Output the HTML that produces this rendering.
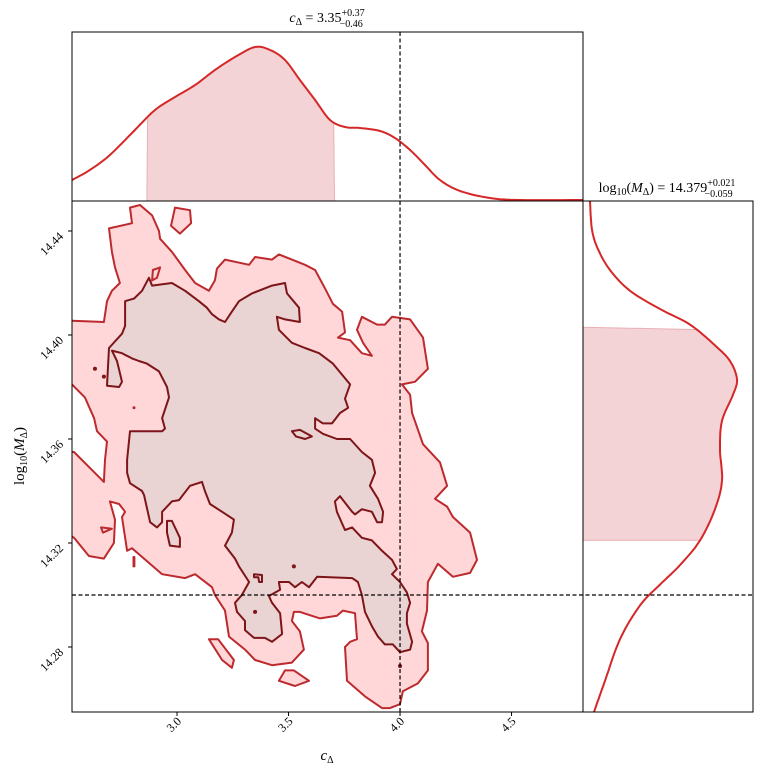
<!DOCTYPE html>
<html><head><meta charset="utf-8"><style>
body{margin:0;background:#fff;}
svg{display:block;font-family:"Liberation Serif",serif;}
</style></head><body>
<svg id="chart" width="765" height="773" xmlns="http://www.w3.org/2000/svg">
<defs>
<clipPath id="cm"><rect x="72" y="201" width="511" height="511"/></clipPath>
<clipPath id="ct"><rect x="72" y="32" width="511" height="169"/></clipPath>
<clipPath id="cr"><rect x="583" y="201" width="170" height="511"/></clipPath>
</defs>
<g id="main" clip-path="url(#cm)"></g>
<g id="top" clip-path="url(#ct)"></g>
<g id="right" clip-path="url(#cr)"></g>
<g id="frames" fill="none" stroke="#000" stroke-width="1"></g>
<g id="ticks"></g>
<text x="327" y="22" text-anchor="middle" font-size="14"><tspan font-style="italic">c</tspan><tspan font-size="10" dy="3">Δ</tspan><tspan dy="-3"> = 3.35</tspan><tspan font-size="10" dy="-6">+0.37</tspan><tspan font-size="10" dx="-25" dy="11">−0.46</tspan></text>
<text x="667" y="192" text-anchor="middle" font-size="14">log<tspan font-size="10" dy="3">10</tspan><tspan dy="-3">(</tspan><tspan font-style="italic">M</tspan><tspan font-size="10" dy="3">Δ</tspan><tspan dy="-3">) = 14.379</tspan><tspan font-size="10" dy="-6">+0.021</tspan><tspan font-size="10" dx="-31" dy="11">−0.059</tspan></text>
<text x="327" y="760" text-anchor="middle" font-size="15"><tspan font-style="italic">c</tspan><tspan font-size="10" dy="3">Δ</tspan></text>
<text transform="translate(24,456) rotate(-90)" text-anchor="middle" font-size="15">log<tspan font-size="10" dy="3">10</tspan><tspan dy="-3">(</tspan><tspan font-style="italic">M</tspan><tspan font-size="10" dy="3">Δ</tspan><tspan dy="-3">)</tspan></text>
</svg>
<script>
const xTicks=[3.0,3.5,4.0,4.5];
const xTickLabels=["3.0","3.5","4.0","4.5"];
const yTicks=[14.28,14.32,14.36,14.40,14.44];
const yTickLabels=["14.28","14.32","14.36","14.40","14.44"];
const truthC=4.0;
const truthM=14.30;
const outerC=[2.695,2.798,2.789,2.834,2.888,2.919,2.924,2.977,3.036,3.081,3.143,3.170,3.179,3.215,3.323,3.350,3.426,3.457,3.515,3.574,3.619,3.663,3.699,3.740,3.753,3.722,3.776,3.829,3.874,3.834,3.807,3.829,3.897,3.932,3.964,4.045,4.103,4.125,4.067,4.009,4.045,4.054,4.103,4.179,4.211,4.157,4.211,4.237,4.314,4.345,4.314,4.237,4.170,4.125,4.121,4.098,4.125,4.125,4.080,4.013,4.000,3.955,3.919,3.843,3.762,3.753,3.776,3.807,3.798,3.744,3.717,3.641,3.551,3.524,3.515,3.551,3.569,3.515,3.426,3.350,3.305,3.233,3.215,3.170,3.157,3.081,3.036,2.933,2.798,2.776,2.753,2.767,2.740,2.699,2.722,2.717,2.672,2.605,2.538,2.520,2.520,2.538,2.672,2.677,2.686,2.641,2.628,2.587,2.529,2.520,2.520,2.529,2.672,2.686,2.708,2.744,2.722,2.708];
const outerM=[14.441,14.443,14.449,14.450,14.446,14.440,14.437,14.432,14.425,14.420,14.417,14.421,14.4255,14.429,14.427,14.430,14.429,14.431,14.429,14.427,14.425,14.418,14.412,14.409,14.401,14.399,14.398,14.393,14.392,14.397,14.402,14.407,14.404,14.404,14.407,14.406,14.399,14.387,14.382,14.381,14.377,14.370,14.358,14.351,14.342,14.337,14.334,14.330,14.324,14.3135,14.3085,14.307,14.312,14.305,14.294,14.286,14.2815,14.271,14.266,14.263,14.258,14.2565,14.2565,14.261,14.267,14.280,14.282,14.283,14.293,14.294,14.292,14.291,14.2935,14.2935,14.290,14.286,14.279,14.274,14.273,14.275,14.279,14.284,14.294,14.300,14.303,14.308,14.3065,14.308,14.318,14.317,14.330,14.332,14.335,14.336,14.329,14.320,14.314,14.315,14.322,14.323,14.355,14.355,14.3435,14.352,14.359,14.363,14.368,14.376,14.381,14.381,14.4055,14.4055,14.405,14.413,14.417,14.420,14.426,14.432];
const innerC=[2.874,2.888,2.977,3.036,3.098,3.134,3.157,3.188,3.215,3.246,3.278,3.336,3.426,3.484,3.493,3.547,3.551,3.484,3.448,3.457,3.515,3.574,3.637,3.699,3.776,3.753,3.767,3.731,3.695,3.654,3.619,3.619,3.654,3.717,3.776,3.829,3.874,3.888,3.865,3.901,3.924,3.919,3.897,3.874,3.829,3.798,3.785,3.731,3.708,3.717,3.753,3.785,3.829,3.874,3.919,3.964,3.986,3.964,4.000,4.031,4.045,4.031,4.031,4.054,4.045,4.000,3.968,3.932,3.901,3.874,3.843,3.829,3.811,3.785,3.628,3.592,3.560,3.529,3.502,3.457,3.462,3.412,3.426,3.462,3.471,3.426,3.394,3.345,3.305,3.305,3.269,3.260,3.291,3.323,3.278,3.260,3.215,3.246,3.255,3.202,3.148,3.125,3.112,3.058,3.009,2.977,2.933,2.933,2.910,2.879,2.852,2.843,2.789,2.776,2.776,2.789,2.933,2.946,2.933,2.964,2.955,2.919,2.865,2.829,2.798,2.753,2.708,2.731,2.753,2.740,2.686,2.695,2.753,2.767,2.767,2.807,2.843];
const innerM=[14.422,14.419,14.420,14.417,14.413,14.4105,14.408,14.406,14.405,14.409,14.413,14.416,14.419,14.420,14.416,14.4105,14.405,14.406,14.407,14.402,14.397,14.395,14.393,14.389,14.381,14.3755,14.372,14.370,14.366,14.366,14.368,14.364,14.362,14.360,14.360,14.355,14.352,14.347,14.342,14.337,14.332,14.328,14.328,14.332,14.333,14.331,14.332,14.338,14.336,14.332,14.325,14.326,14.322,14.321,14.317,14.3135,14.310,14.308,14.305,14.301,14.297,14.293,14.289,14.282,14.279,14.278,14.281,14.281,14.284,14.288,14.2935,14.300,14.305,14.3065,14.307,14.303,14.305,14.303,14.305,14.305,14.302,14.2996,14.297,14.293,14.285,14.282,14.2835,14.2835,14.2865,14.290,14.2935,14.297,14.300,14.305,14.311,14.314,14.319,14.324,14.329,14.332,14.335,14.340,14.3435,14.342,14.3365,14.336,14.332,14.328,14.326,14.328,14.3385,14.340,14.343,14.347,14.352,14.363,14.363,14.364,14.368,14.376,14.380,14.386,14.389,14.390,14.391,14.393,14.394,14.390,14.382,14.380,14.3805,14.395,14.4005,14.4035,14.413,14.414,14.417];
const outerIslandsC=[[2.991,3.058,3.063,3.013,2.973],[2.892,2.924,2.910,2.888],[3.143,3.184,3.255,3.246,3.202],[3.457,3.484,3.524,3.592,3.529],[2.659,2.708,2.668],[2.805,2.809,2.809,2.805]];
const outerIslandsM=[[14.449,14.448,14.443,14.439,14.442],[14.425,14.426,14.422,14.421],[14.283,14.283,14.275,14.272,14.275],[14.267,14.271,14.271,14.267,14.265],[14.326,14.3255,14.324],[14.3146,14.3146,14.311,14.311]];
const innerIslandsC=[[3.515,3.551,3.605,3.574,3.533],[2.955,2.977,3.013,3.013,2.968,2.955],[3.345,3.381,3.381,3.368,3.365,3.345]];
const innerIslandsM=[[14.363,14.3635,14.361,14.360,14.361],[14.3285,14.3285,14.322,14.3185,14.319,14.324],[14.308,14.3077,14.305,14.305,14.3068,14.3068]];
const outerDotsC=[2.807];
const outerDotsM=[14.372];
const innerDotsC=[2.632,2.672,3.350,3.524,4.000];
const innerDotsM=[14.387,14.384,14.2935,14.311,14.2727];
const topC=[2.529,2.609,2.699,2.811,2.901,2.991,3.081,3.170,3.260,3.350,3.417,3.484,3.551,3.619,3.686,3.753,3.820,3.910,3.977,4.045,4.112,4.179,4.269,4.403,4.538,4.820];
const topDensity=[21,31,46,71,91,104,116,131,144,154,151,141,121,101,81,74,73,70,63,51,36,21,10,3,1,1];
const topBand=[2.865,3.706];
const rightM=[14.255,14.267,14.283,14.296,14.304,14.3115,14.321,14.333,14.344,14.356,14.367,14.377,14.383,14.390,14.396,14.404,14.410,14.417,14.425,14.433,14.4405,14.4515];
const rightDensity=[11,22,37,57,77,97,117,132,139,137,139,150,154,147,132,107,77,47,27,15,9,7];
const rightBand=[14.321,14.403];

const X=c=>72+(c-2.529)*223;
const Y=m=>595-(m-14.30)*2600;
const TY=d=>201-d;
const RX=d=>583+d;
const NS="http://www.w3.org/2000/svg";
function mk(tag,attrs,parent){const e=document.createElementNS(NS,tag);for(const k in attrs)e.setAttribute(k,attrs[k]);parent.appendChild(e);return e;}
const main=document.getElementById('main'),top_=document.getElementById('top'),right=document.getElementById('right'),frames=document.getElementById('frames'),ticks=document.getElementById('ticks');
function poly(cs,ms){return cs.map((c,i)=>X(c).toFixed(1)+','+Y(ms[i]).toFixed(1)).join(' ');}
// smooth Catmull-Rom sampling of pixel points
function smooth(pts,n){const out=[];for(let i=0;i<pts.length-1;i++){const p0=pts[Math.max(i-1,0)],p1=pts[i],p2=pts[i+1],p3=pts[Math.min(i+2,pts.length-1)];for(let k=0;k<n;k++){const t=k/n,t2=t*t,t3=t2*t;out.push([0,1].map(j=>0.5*((2*p1[j])+(-p0[j]+p2[j])*t+(2*p0[j]-5*p1[j]+4*p2[j]-p3[j])*t2+(-p0[j]+3*p1[j]-3*p2[j]+p3[j])*t3)));}}out.push(pts[pts.length-1]);return out;}
const OS='#bd2a2e',OF='#ffd7d8',IS='#7d1518',IF='#e9d3d3';
let p=mk('polygon',{points:poly(outerC,outerM),fill:OF,stroke:OS,'stroke-width':2,'stroke-linejoin':'round'},main);


outerIslandsC.forEach((cs,i)=>{const e=mk('polygon',{points:poly(cs,outerIslandsM[i]),fill:OF,stroke:OS,'stroke-width':2,'stroke-linejoin':'round'},main);

});
outerDotsC.forEach((c,i)=>{const e=mk('circle',{cx:X(c),cy:Y(outerDotsM[i]),r:1.5,fill:OS},main);

});
p=mk('polygon',{points:poly(innerC,innerM),fill:IF,stroke:IS,'stroke-width':2,'stroke-linejoin':'round'},main);


innerIslandsC.forEach((cs,i)=>{const e=mk('polygon',{points:poly(cs,innerIslandsM[i]),fill:IF,stroke:IS,'stroke-width':2,'stroke-linejoin':'round'},main);

});
innerDotsC.forEach((c,i)=>{const e=mk('circle',{cx:X(c),cy:Y(innerDotsM[i]),r:2,fill:IS},main);

});
// top marginal
const topPts=smooth(topC.map((c,i)=>[X(c),TY(topDensity[i])]),8);
const bx0=X(topBand[0]),bx1=X(topBand[1]);
let band=[[bx0,201]].concat(topPts.filter(q=>q[0]>=bx0&&q[0]<=bx1)).concat([[bx1,201]]);
p=mk('polygon',{points:band.map(q=>q[0].toFixed(1)+','+q[1].toFixed(1)).join(' '),fill:'#f4d3d6',stroke:'#e8b0b4','stroke-width':1},top_);


p=mk('polyline',{points:topPts.map(q=>q[0].toFixed(1)+','+q[1].toFixed(1)).join(' '),fill:'none',stroke:'#d62728','stroke-width':2,'stroke-linejoin':'round'},top_);


// right marginal
const rPts=smooth(rightM.map((m,i)=>[RX(rightDensity[i]),Y(m)]),8);
const by0=Y(rightBand[0]),by1=Y(rightBand[1]);
band=[[583,by0]].concat(rPts.filter(q=>q[1]<=by0&&q[1]>=by1)).concat([[583,by1]]);
p=mk('polygon',{points:band.map(q=>q[0].toFixed(1)+','+q[1].toFixed(1)).join(' '),fill:'#f4d3d6',stroke:'#e8b0b4','stroke-width':1},right);


p=mk('polyline',{points:rPts.map(q=>q[0].toFixed(1)+','+q[1].toFixed(1)).join(' '),fill:'none',stroke:'#d62728','stroke-width':2,'stroke-linejoin':'round'},right);


// frames
[[72,32,511,169],[72,201,511,511],[583,201,170,511]].forEach(r=>{const e=mk('rect',{x:r[0],y:r[1],width:r[2],height:r[3]},frames);

});
// truth lines
p=mk('line',{x1:X(truthC),x2:X(truthC),y1:32,y2:712,stroke:'#000','stroke-width':1.2,'stroke-dasharray':'4,2.5'},document.getElementById('chart'));


p=mk('line',{x1:72,x2:753,y1:Y(truthM),y2:Y(truthM),stroke:'#000','stroke-width':1.2,'stroke-dasharray':'4,2.5'},document.getElementById('chart'));


// ticks
xTicks.forEach((t,i)=>{const x=X(t);
const l=mk('line',{x1:x,x2:x,y1:712,y2:716,stroke:'#000'},ticks);


const tx=mk('text',{transform:`translate(${x+5},${722}) rotate(-45)`,'text-anchor':'end','font-size':12},ticks);
tx.textContent=xTickLabels[i];

});
yTicks.forEach((t,i)=>{const y=Y(t);
const l=mk('line',{x1:68,x2:72,y1:y,y2:y,stroke:'#000'},ticks);


const tx=mk('text',{transform:`translate(${64},${y+6}) rotate(-45)`,'text-anchor':'end','font-size':12},ticks);
tx.textContent=yTickLabels[i];

});
</script>
</body></html>
